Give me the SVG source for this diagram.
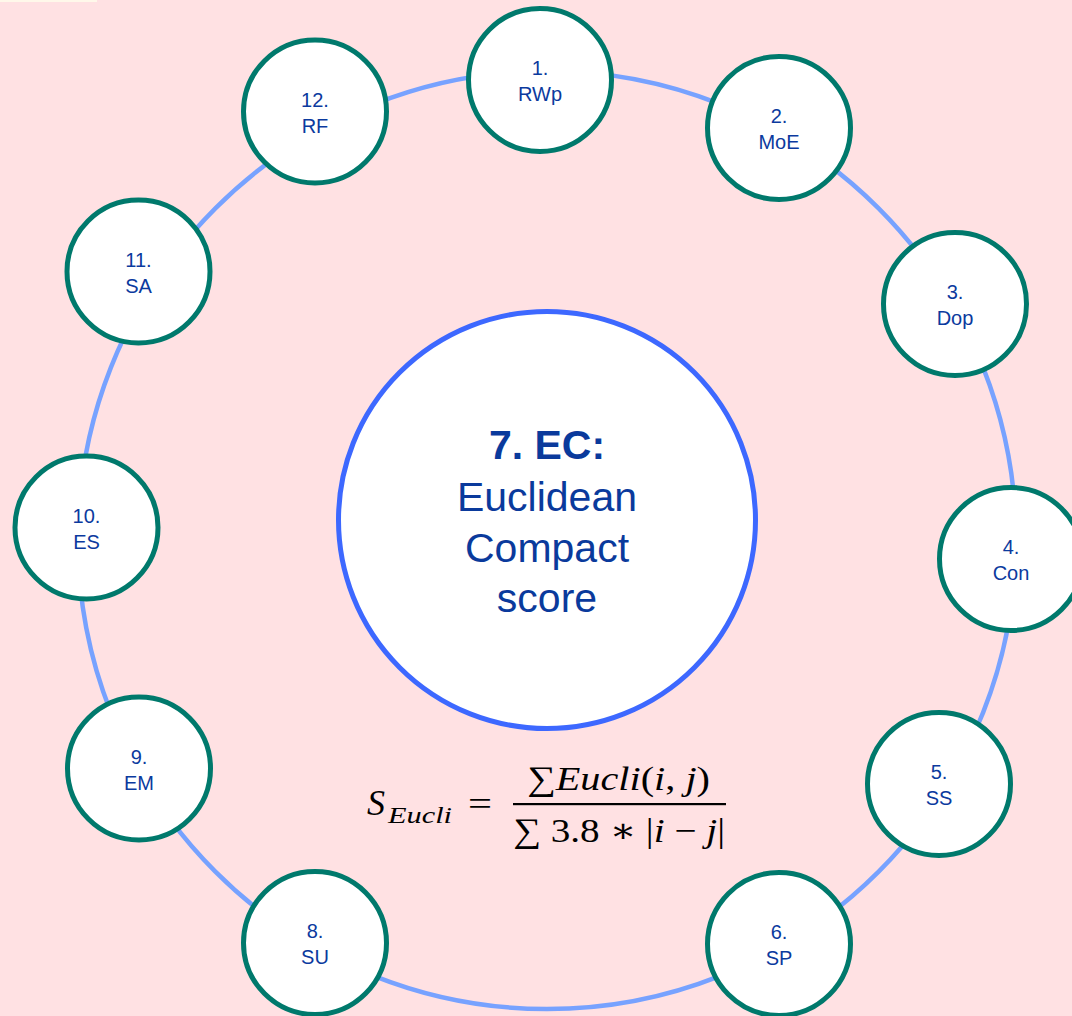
<svg xmlns="http://www.w3.org/2000/svg" width="1072" height="1016" viewBox="0 0 1072 1016">
<style>
.bg{fill:#ffe1e3}
.ring{fill:none;stroke:#77a2ff;stroke-width:4.5}
.node circle{fill:#ffffff;stroke:#00796c;stroke-width:5}
.node text{font-family:"Liberation Sans",Arial,sans-serif;font-size:20px;fill:#0b3a9e;text-anchor:middle}
.hub circle{fill:#ffffff;stroke:#3d68ff;stroke-width:5}
.hub text{font-family:"Liberation Sans",Arial,sans-serif;font-size:41px;fill:#0a3a9c;text-anchor:middle}
.math{font-family:"Liberation Serif","DejaVu Serif",serif;fill:#000000}
</style>
<rect class="bg" x="0" y="0" width="1072" height="1016"/>
<rect x="0" y="0" width="97" height="2" fill="#fff8ea"/>
<g id="connectors">
<circle class="ring" cx="547" cy="540" r="469"/>
</g>
<g id="node7" class="hub">
<circle cx="547" cy="520" r="208.5"/>
<text x="547" y="459" font-weight="bold">7. EC:</text>
<text x="547" y="511">Euclidean</text>
<text x="547" y="562">Compact</text>
<text x="547" y="612">score</text>
</g>
<g id="node1" class="node"><circle cx="540" cy="80" r="71.5"/><text x="540" y="75">1.</text><text x="540" y="101">RWp</text></g>
<g id="node2" class="node"><circle cx="779" cy="128" r="71.5"/><text x="779" y="123">2.</text><text x="779" y="149">MoE</text></g>
<g id="node3" class="node"><circle cx="955" cy="304" r="71.5"/><text x="955" y="299">3.</text><text x="955" y="325">Dop</text></g>
<g id="node4" class="node"><circle cx="1011" cy="559" r="71.5"/><text x="1011" y="554">4.</text><text x="1011" y="580">Con</text></g>
<g id="node5" class="node"><circle cx="939" cy="784" r="71.5"/><text x="939" y="779">5.</text><text x="939" y="805">SS</text></g>
<g id="node6" class="node"><circle cx="779" cy="944" r="71.5"/><text x="779" y="939">6.</text><text x="779" y="965">SP</text></g>
<g id="node8" class="node"><circle cx="315" cy="943" r="71.5"/><text x="315" y="938">8.</text><text x="315" y="964">SU</text></g>
<g id="node9" class="node"><circle cx="139" cy="768.5" r="71.5"/><text x="139" y="763.5">9.</text><text x="139" y="789.5">EM</text></g>
<g id="node10" class="node"><circle cx="86.5" cy="527.5" r="71.5"/><text x="86.5" y="522.5">10.</text><text x="86.5" y="548.5">ES</text></g>
<g id="node11" class="node"><circle cx="138.5" cy="271.5" r="71.5"/><text x="138.5" y="266.5">11.</text><text x="138.5" y="292.5">SA</text></g>
<g id="node12" class="node"><circle cx="315" cy="111.5" r="71.5"/><text x="315" y="106.5">12.</text><text x="315" y="132.5">RF</text></g>
<g id="formula" class="math">
<text x="367" y="815" font-size="36" font-style="italic">S</text>
<text x="388" y="823" font-size="24" font-style="italic" textLength="64" lengthAdjust="spacingAndGlyphs">Eucli</text>
<text x="468" y="815" font-size="34" textLength="24" lengthAdjust="spacingAndGlyphs">=</text>
<text x="527" y="790" font-size="34" textLength="183" lengthAdjust="spacingAndGlyphs">∑<tspan font-style="italic">Eucli</tspan>(<tspan font-style="italic">i</tspan>, <tspan font-style="italic">j</tspan>)</text>
<rect x="513" y="803" width="213" height="2.2" fill="#000000"/>
<text x="513" y="842" font-size="34" textLength="212" lengthAdjust="spacingAndGlyphs">∑ 3.8 ∗ |<tspan font-style="italic">i</tspan> − <tspan font-style="italic">j</tspan>|</text>
</g>
</svg>
